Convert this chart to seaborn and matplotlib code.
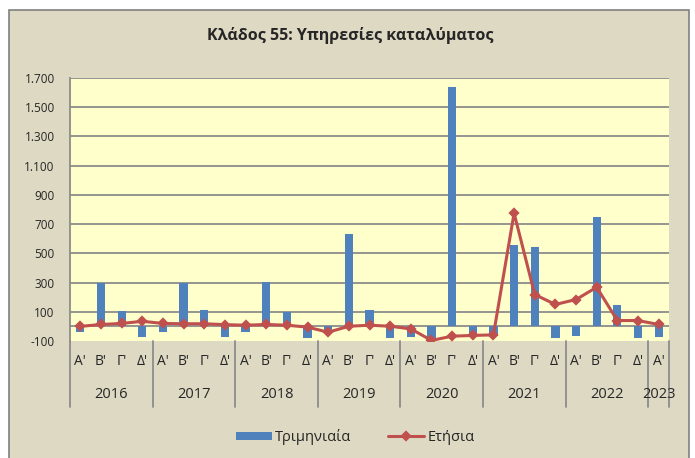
import numpy as np
import pandas as pd
import matplotlib
matplotlib.use("Agg")
import matplotlib.pyplot as plt
import matplotlib.transforms as mtransforms
from matplotlib.patches import Rectangle
import seaborn as sns

years = ["2016", "2017", "2018", "2019", "2020", "2021", "2022", "2023"]
quarter_names = ["Α'", "Β'", "Γ'", "Δ'"]
quarterly = [-35, 300, 104, -71, -40, 300, 115, -71, -40, 302, 100, -78,
             -30, 632, 111, -78, -71, -78, 1640, -67, -65, 559, 541, -78,
             -67, 752, 143, -78, -71]
annual = [0, 13, 20, 35, 20, 18, 18, 12, 8, 13, 8, -5, -40, 1, 8, 1,
          -17, -96, -67, -62, -58, 775, 218, 150, 184, 268, 40, 40, 13]
yticks = list(range(-100, 1701, 200))

n = len(quarterly)
period_year = [years[i // 4] for i in range(n)]
period_q = [quarter_names[i % 4] for i in range(n)]
df = pd.DataFrame({
    "period": [f"{y} {q}" for y, q in zip(period_year, period_q)],
    "Τριμηνιαία": quarterly,
    "Ετήσια": annual,
})

sns.set_style("white")
plt.rcParams["font.family"] = ["Open Sans", "DejaVu Sans"]

BG = "#DDD9C3"
PLOT_BG = "#FFFFCC"
GRID = "#8C8C8C"
BLUE = "#4F81BD"
RED = "#C0504D"

fig = plt.figure(figsize=(6.95, 4.58), dpi=100, facecolor="white")
fig.patches.append(Rectangle((9 / 695, -0.05), 680 / 695, 1.05 - 10 / 458,
                             transform=fig.transFigure, facecolor=BG,
                             edgecolor="#808080", linewidth=1.2, zorder=-10))

ax = fig.add_axes([70 / 695, 1 - 341 / 458, 599 / 695, 263 / 458])
ax.set_zorder(1)
ax.set_facecolor(PLOT_BG)

sns.barplot(data=df, x="period", y="Τριμηνιαία", color=BLUE, width=0.4,
            saturation=1, linewidth=0, label="Τριμηνιαία", ax=ax, zorder=3)
sns.pointplot(data=df, x="period", y="Ετήσια", color=RED, markers="D",
              markersize=4, linewidth=2.2, errorbar=None, label="Ετήσια",
              ax=ax, zorder=4)
handles, labels = ax.get_legend_handles_labels()
if ax.get_legend() is not None:
    ax.get_legend().remove()

ax.set_ylim(-100, 1700)
ax.set_xlim(-0.5, n - 0.5)
ax.set_yticks(yticks)
ax.set_yticklabels([f"{v:,}".replace(",", ".") for v in yticks], fontsize=8.5)
for v in yticks[1:]:
    ax.axhline(v, color=GRID, linewidth=1.3, zorder=1)
ax.axhline(0, color=GRID, linewidth=1.3, zorder=1)
ax.tick_params(axis="y", length=0, pad=11)
ax.tick_params(axis="x", length=0)
ax.set_xticks([])
ax.set_xlabel("")
ax.set_ylabel("")
for s in ["top", "right", "bottom"]:
    ax.spines[s].set_visible(False)
ax.spines["left"].set_color(GRID)
ax.spines["left"].set_linewidth(1.3)

# multi-level category axis
trans = mtransforms.blended_transform_factory(ax.transData, ax.transAxes)
for i in range(n):
    ax.text(i, -0.078, period_q[i], transform=trans, ha="center", va="center",
            fontsize=10)
bounds = [-0.5] + [4 * k - 0.5 for k in range(1, 8)] + [n - 0.5]
for b in bounds:
    ax.plot([b, b], [0, -0.25], transform=trans, color=GRID, linewidth=1.3,
            clip_on=False)
for k, y in enumerate(years):
    lo = bounds[k]
    hi = bounds[k + 1]
    ax.text((lo + hi) / 2, -0.205, y, transform=trans, ha="center",
            va="center", fontsize=10.5)

fig.text(350 / 695, 1 - 35 / 458, "Κλάδος 55: Υπηρεσίες καταλύματος",
         ha="center", va="center", fontsize=11.5, fontweight="bold")

lookup = dict(zip(labels, handles))
order = ["Τριμηνιαία", "Ετήσια"]
fig.legend([lookup[k] for k in order], order, loc="center",
           bbox_to_anchor=(355 / 695, 1 - 437 / 458),
           ncol=2, frameon=False, fontsize=10.5, handlelength=2.5,
           handleheight=0.5, columnspacing=2.5, handletextpad=0.2)

plt.savefig("out.png", dpi=100, facecolor=fig.get_facecolor())
